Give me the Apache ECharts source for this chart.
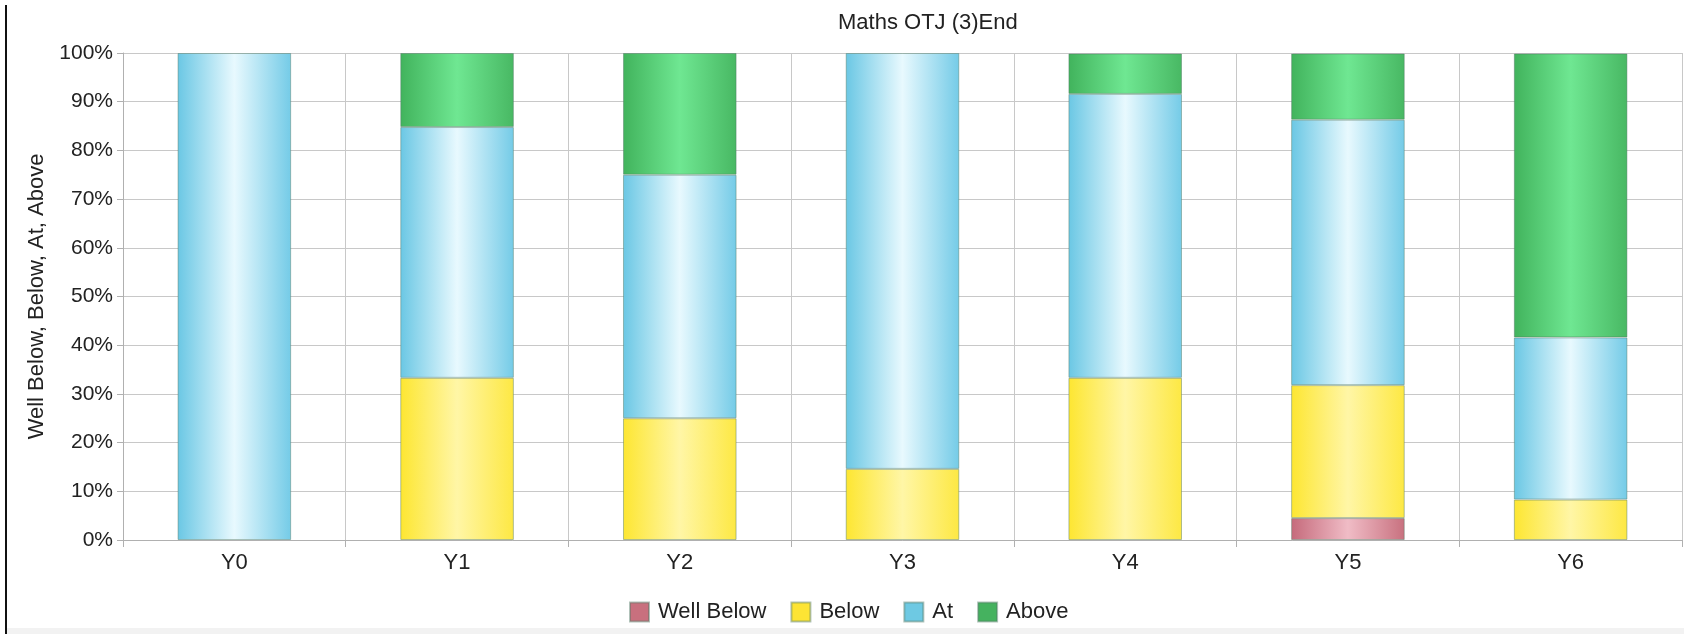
<!DOCTYPE html>
<html>
<head>
<meta charset="utf-8">
<title>Maths OTJ (3)End</title>
<script src="https://cdn.jsdelivr.net/npm/echarts@6/dist/echarts.min.js"></script>
<style>
  html, body { margin: 0; padding: 0; background: #ffffff; }
  #chart { width: 1684px; height: 634px; }
</style>
</head>
<body>
<div id="chart"></div>
<script>
// Year groups along the x axis
const categories = ['Y0', 'Y1', 'Y2', 'Y3', 'Y4', 'Y5', 'Y6'];

// Percentage of pupils in each band, per year group
const wellBelow = [0, 0, 0, 0, 0, 4.5, 0];
const below     = [0, 33.3, 25, 14.6, 33.3, 27.3, 8.3];
const at        = [100, 51.5, 50, 85.4, 58.3, 54.5, 33.3];
const above     = [0, 15.2, 25, 0, 8.3, 13.6, 58.3];

const seriesNames = ['Well Below', 'Below', 'At', 'Above'];
const seriesValues = [wellBelow, below, at, above];

// Flat colours (legend) and cylinder-like shading (bars)
const solidColors = ['#c8707e', '#fde434', '#6ec9e3', '#45b25f'];
const shades = [
  ['#c56a7b', '#f0bcc6', '#c8717f'],
  ['#fde631', '#fff6a6', '#fde843'],
  ['#6ac7e4', '#e8f9fe', '#74cbe7'],
  ['#41b35c', '#6fe792', '#48b863']
];

const FONT = '"Liberation Sans", Arial, Helvetica, sans-serif';

function shaded(c) {
  return {
    type: 'linear', x: 0, y: 0, x2: 1, y2: 0,
    colorStops: [
      { offset: 0, color: c[0] },
      { offset: 0.5, color: c[1] },
      { offset: 1, color: c[2] }
    ]
  };
}

const chart = echarts.init(document.getElementById('chart'), null, { renderer: 'canvas' });

chart.setOption({
  backgroundColor: '#ffffff',
  animation: false,
  title: {
    text: 'Maths OTJ (3)End',
    left: 833,
    top: 7,
    textStyle: { fontFamily: FONT, fontSize: 22, fontWeight: 'normal', color: '#222' }
  },
  legend: {
    left: 624,
    top: 596,
    itemWidth: 19,
    itemHeight: 19,
    itemGap: 24,
    icon: 'rect',
    textStyle: { fontFamily: FONT, fontSize: 22, color: '#222', padding: [0, 0, 0, 4] },
    data: seriesNames.map((n, i) => ({ name: n, itemStyle: { color: solidColors[i] } }))
  },
  grid: { left: 123, right: 2, top: 53, bottom: 94 },
  xAxis: {
    type: 'category',
    data: categories,
    axisLine: { show: true, lineStyle: { color: '#b0b0b0', width: 1 } },
    axisTick: { show: true, length: 7, lineStyle: { color: '#b0b0b0' } },
    splitLine: { show: true, lineStyle: { color: '#c8c8c8', width: 1 } },
    axisLabel: { fontFamily: FONT, fontSize: 22, color: '#222', margin: 12 }
  },
  yAxis: {
    type: 'value',
    min: 0,
    max: 100,
    interval: 10,
    name: 'Well Below, Below, At, Above',
    nameLocation: 'middle',
    nameRotate: 90,
    nameGap: 63,
    nameTextStyle: { fontFamily: FONT, fontSize: 22, color: '#222' },
    axisLine: { show: true, lineStyle: { color: '#b0b0b0', width: 1 } },
    axisTick: { show: true, length: 6, lineStyle: { color: '#b0b0b0' } },
    splitLine: { show: true, lineStyle: { color: '#c8c8c8', width: 1 } },
    axisLabel: { fontFamily: FONT, fontSize: 21, color: '#222', margin: 10, formatter: '{value}%' }
  },
  series: seriesNames.map((n, i) => ({
    name: n,
    type: 'bar',
    stack: 'total',
    barWidth: '51%',
    data: seriesValues[i].map(v => (v === 0 ? '-' : v)),
    itemStyle: {
      color: shaded(shades[i]),
      borderColor: 'rgba(80,120,100,0.45)',
      borderWidth: 1
    },
    emphasis: { disabled: true }
  })),
  graphic: [
    { type: 'rect', left: 5, top: 5, shape: { width: 2, height: 629 }, style: { fill: '#111' }, silent: true },
    { type: 'rect', left: 7, top: 628, shape: { width: 1677, height: 6 }, style: { fill: '#f2f2f2' }, silent: true }
  ]
});
</script>
</body>
</html>
